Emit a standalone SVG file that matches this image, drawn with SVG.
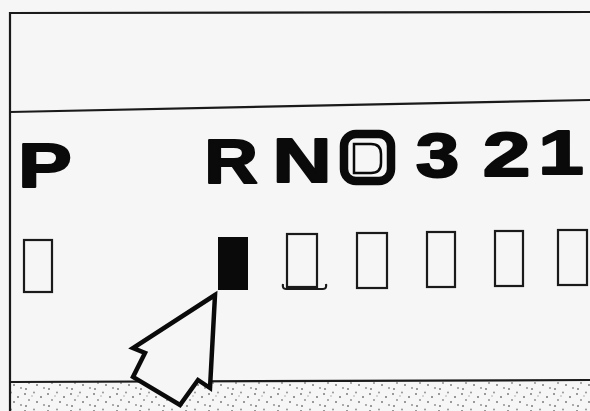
<svg xmlns="http://www.w3.org/2000/svg" width="590" height="411" viewBox="0 0 590 411">
<style>
.frame{stroke:#1a1a1a;stroke-width:2.2;fill:none}
.lbl{font-family:"Liberation Sans",Arial,sans-serif;font-weight:bold;font-size:63px;fill:#0a0a0a;stroke:#0a0a0a;stroke-width:2;stroke-linejoin:round;text-anchor:middle}
.slot{fill:none;stroke:#1a1a1a;stroke-width:2.2}
</style>
<defs>
<pattern id="stip" width="23" height="17" patternUnits="userSpaceOnUse">
<circle cx="2" cy="3" r="1" fill="#7a7a7a"/>
<circle cx="11" cy="1.5" r="0.9" fill="#8a8a8a"/>
<circle cx="18" cy="6" r="1" fill="#777"/>
<circle cx="6" cy="9" r="0.9" fill="#888"/>
<circle cx="14" cy="11" r="1" fill="#7a7a7a"/>
<circle cx="21" cy="14" r="0.9" fill="#888"/>
<circle cx="3" cy="15" r="1" fill="#7a7a7a"/>
<circle cx="9" cy="5" r="0.7" fill="#999"/>
</pattern>
</defs>
<rect width="590" height="411" fill="#f6f6f6"/>
<g id="frame">
<rect x="10" y="381" width="580" height="30" fill="url(#stip)"/>
<line class="frame" x1="9" y1="13" x2="590" y2="12"/>
<line class="frame" x1="10" y1="12" x2="10" y2="411"/>
<line class="frame" x1="10" y1="112" x2="590" y2="100"/>
<line class="frame" x1="10" y1="382" x2="590" y2="380"/>
</g>
<g id="labels">
<text class="lbl" transform="translate(45,187) scale(1.28,1)">P</text>
<text class="lbl" transform="translate(231,183) scale(1.18,1)">R</text>
<text class="lbl" transform="translate(302,182) scale(1.3,1)">N</text>
<g id="d-badge">
<rect x="344" y="134" width="47" height="47" rx="12" fill="none" stroke="#0a0a0a" stroke-width="8.5"/>
<path d="M354,144 H371 Q381,144 381,154 V163 Q381,173 371,173 H354 Z" fill="#f6f6f6" stroke="#0a0a0a" stroke-width="2.5"/>
</g>
<text class="lbl" transform="translate(437.5,177) scale(1.24,1)">3</text>
<text class="lbl" transform="translate(506.5,176) scale(1.36,1)">2</text>
<text class="lbl" transform="translate(561,174) scale(1.3,1)">1</text>
</g>
<g id="slots">
<rect id="slot-p" class="slot" x="24" y="240" width="28" height="52"/>
<rect id="slot-r" x="218" y="237" width="30" height="53" fill="#0a0a0a"/>
<g id="slot-n">
<rect class="slot" x="287" y="234" width="30" height="53"/>
<path class="slot" d="M283,284 Q282,289 286,289 H323 Q327,289 326,284" stroke-width="2.8"/>
</g>
<rect id="slot-d" class="slot" x="357" y="233" width="30" height="55"/>
<rect id="slot-3" class="slot" x="427" y="232" width="28" height="55"/>
<rect id="slot-2" class="slot" x="495" y="231" width="28" height="55"/>
<rect id="slot-1" class="slot" x="558" y="230" width="29" height="55"/>
</g>
<g id="pointer">
<path d="M215,295 L133,348 L145,353 L133,377 L180,405 L198,380 L210,388 Z" fill="#f6f6f6" stroke="#0a0a0a" stroke-width="4.5" stroke-linejoin="miter"/>
</g>
</svg>
